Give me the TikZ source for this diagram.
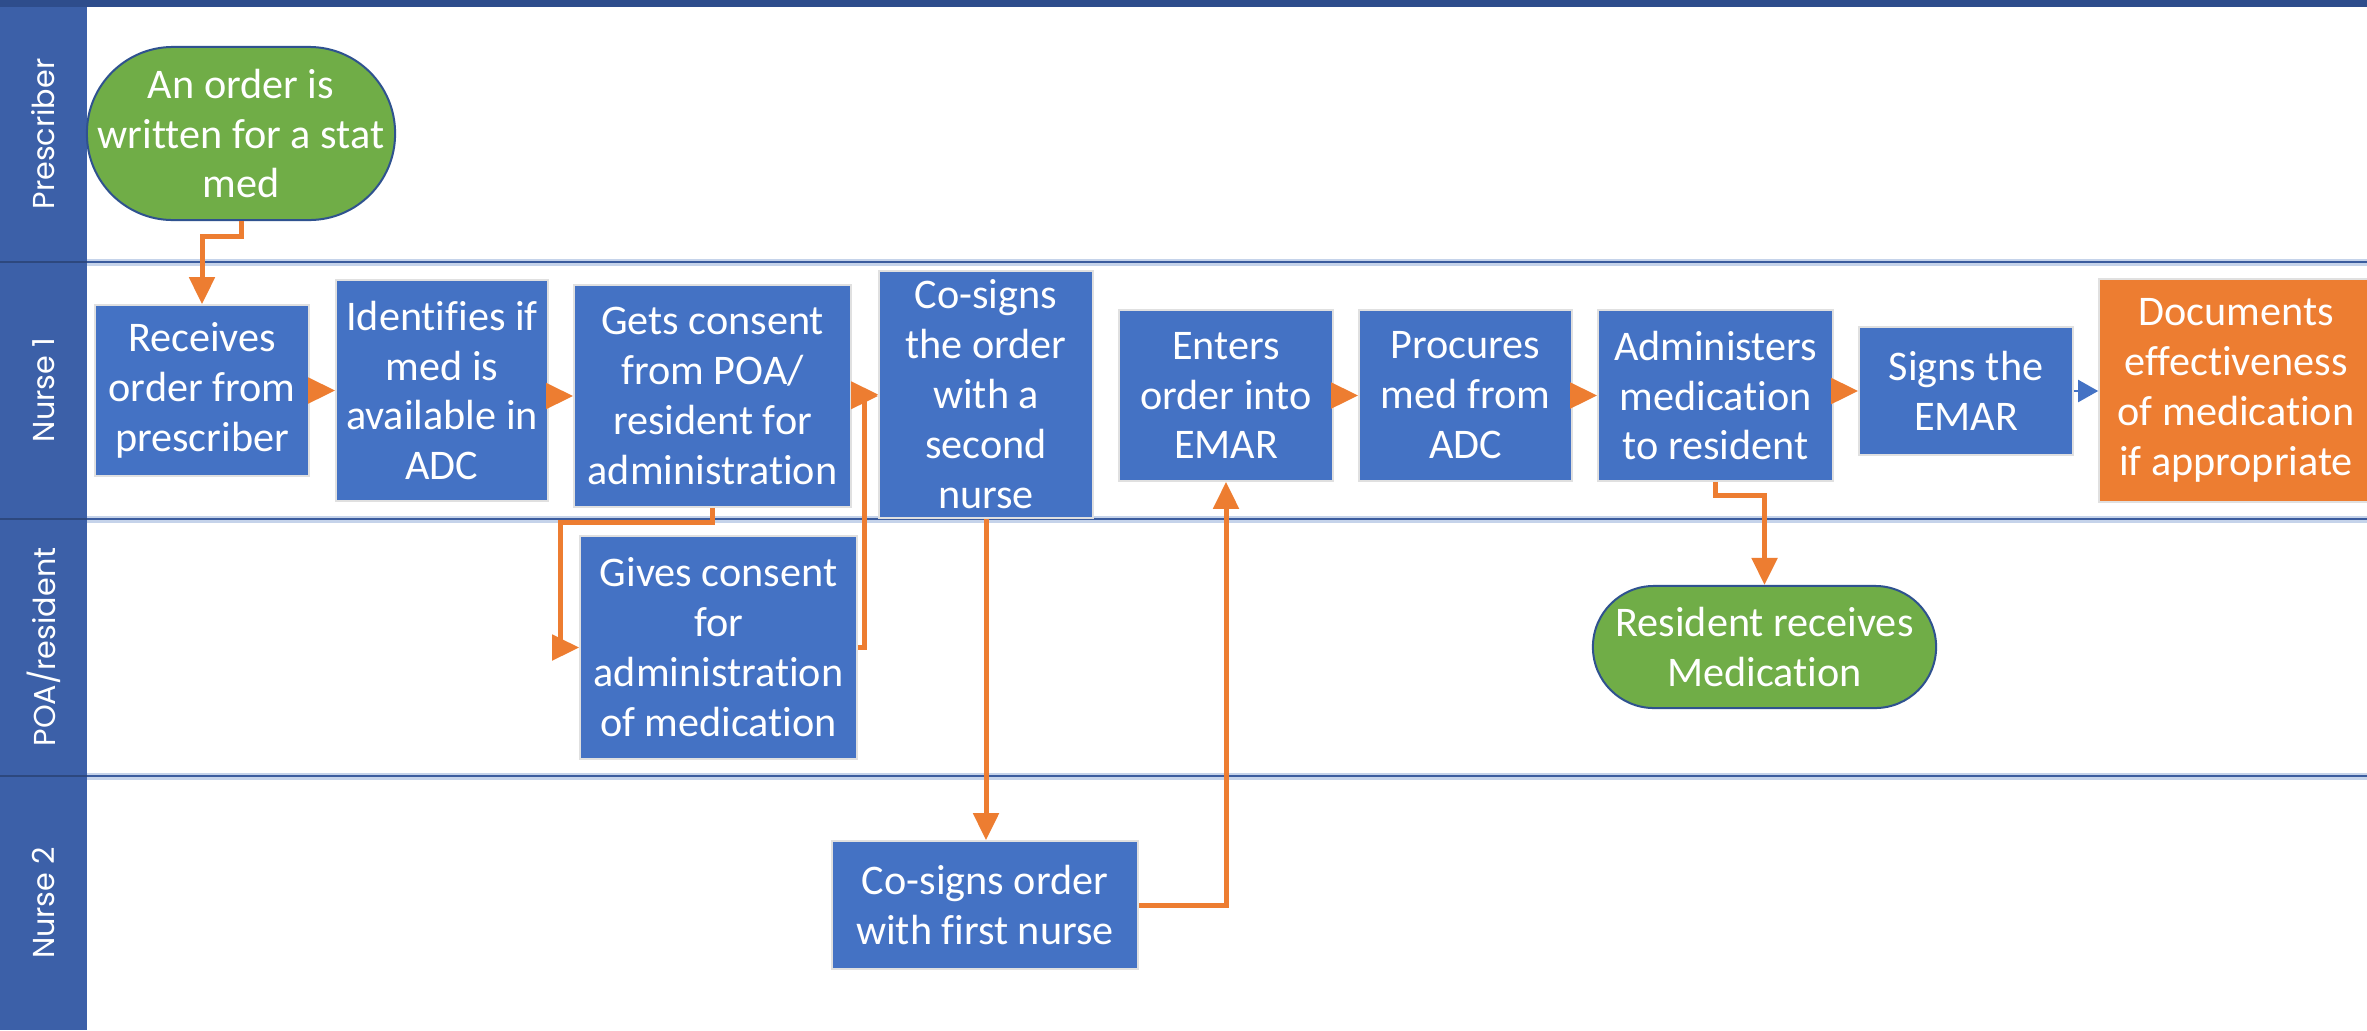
\documentclass[tikz,border=0pt]{standalone}
\usepackage{fontspec}
\setmainfont{Carlito}[Ligatures=NoCommon]
\newfontfamily\lanefont{Poppins}
\usetikzlibrary{arrows.meta,calc}

\definecolor{boxblue}{HTML}{4472C4}
\definecolor{flowor}{HTML}{ED7D31}
\definecolor{termgreen}{HTML}{70AD47}
\definecolor{termedge}{HTML}{2F528F}
\definecolor{headblue}{HTML}{3C60A8}
\definecolor{topblue}{HTML}{2E4D8C}
\definecolor{laneline}{HTML}{3B5C9E}
\definecolor{lanehalo}{HTML}{C5D3EA}

\tikzset{
  procbox/.style={rectangle, fill=boxblue, draw=black!12, line width=0.015cm,
    text=white, align=center, inner sep=0pt,
    font=\fontsize{12pt}{14.2pt}\selectfont},
  orangebox/.style={procbox, fill=flowor},
  terminal/.style={rectangle, fill=termgreen, draw=termedge, line width=0.02cm,
    text=white, align=center, inner sep=0pt,
    font=\fontsize{12pt}{14.2pt}\selectfont},
  flow/.style={draw=flowor, line width=0.05cm, line join=miter,
    -{Triangle[length=0.27cm,width=0.25cm]}, flowor},
  thinflow/.style={draw=boxblue, line width=0.02cm,
    -{Triangle[length=0.2cm,width=0.22cm]}, boxblue},
  lanelabel/.style={text=white, rotate=90, font=\lanefont\fontsize{8.6pt}{10pt}\selectfont},
  lanesep/.style={line width=0.02cm, draw=laneline},
  lanesephalo/.style={line width=0.07cm, draw=lanehalo}
}

\begin{document}
\begin{tikzpicture}[x=0.01cm, y=-0.01cm]
\clip (0,0) rectangle (2367,1030);
\fill[white] (0,0) rectangle (2367,1030);

% swimlane header column and top band
\fill[headblue] (0,0) rectangle (87,1030);
\fill[topblue] (0,0) rectangle (2367,7);
\foreach \yy in {262,519,776}{
  \draw[lanesephalo] (87,\yy) -- (2367,\yy);
  \draw[lanesep] (87,\yy) -- (2367,\yy);
  \draw[line width=0.015cm, draw=headblue!75!black] (0,\yy) -- (87,\yy);
}

% lane titles
\node[lanelabel] (lanepres) at (43.5,134) {Prescriber};
\node[lanelabel] (lanen1) at (43.5,390) {Nurse 1};
\node[lanelabel] (lanepoa) at (43.5,647) {POA/resident};
\node[lanelabel] (lanen2) at (43.5,903) {Nurse 2};

% Prescriber lane
\node[terminal, minimum width=3.08cm, minimum height=1.73cm, rounded corners=0.86cm]
  (start) at (241,133.5) {An order is\\written for a stat\\med};

% Nurse 1 lane
\node[procbox, minimum width=2.14cm, minimum height=1.71cm] (recv) at (202,390.5)
  {Receives\\order from\\prescriber};
\node[procbox, minimum width=2.12cm, minimum height=2.21cm] (ident) at (442,390.5)
  {Identifies if\\med is\\available in\\ADC};
\node[procbox, minimum width=2.77cm, minimum height=2.22cm] (gets) at (712.5,396)
  {Gets consent\\from POA/\\resident for\\administration};
\node[procbox, minimum width=2.14cm, minimum height=2.47cm] (cosign) at (986,394.5)
  {Co-signs\\the order\\with a\\second\\nurse};
\node[procbox, minimum width=2.14cm, minimum height=1.71cm] (enters) at (1226,395.5)
  {Enters\\order into\\EMAR};
\node[procbox, minimum width=2.13cm, minimum height=1.71cm] (procure) at (1465.5,395.5)
  {Procures\\med from\\ADC};
\node[procbox, minimum width=2.35cm, minimum height=1.71cm] (admin) at (1715.5,395.5)
  {Administers\\medication\\to resident};
\node[procbox, minimum width=2.14cm, minimum height=1.28cm] (signs) at (1966,391)
  {Signs the\\EMAR};
\node[orangebox, minimum width=2.74cm, minimum height=2.23cm] (docs) at (2236,390.5)
  {Documents\\effectiveness\\of medication\\if appropriate};

% POA/resident lane
\node[procbox, minimum width=2.77cm, minimum height=2.23cm] (gives) at (718.5,647.5)
  {Gives consent\\for\\administration\\of medication};
\node[terminal, minimum width=3.43cm, minimum height=1.22cm, rounded corners=0.61cm]
  (resident) at (1764.5,647) {Resident receives\\Medication};

% Nurse 2 lane
\node[procbox, minimum width=3.06cm, minimum height=1.28cm] (cosign2) at (985,905)
  {Co-signs order\\with first nurse};

% connectors
\draw[flow] (start.south) -- ++(0,15) -| (recv.north);
\draw[flow] (recv.east) -- (ident.west);
\draw[flow] (ident.east |- gets.west) -- (gets.west);
\draw[flow] (gets.east) -- (gets.east -| cosign.west);
\draw[flow] (gets.south) -- ++(0,15) -| ([xshift=-0.19cm]gives.west) -- (gives.west);
\draw[flow] (gives.east) -- ++(7,0) |- (cosign.west);
\draw[flow] (cosign.south) -- (cosign.south |- cosign2.north);
\draw[flow] (cosign2.east) -| (enters.south);
\draw[flow] (enters.east) -- (procure.west);
\draw[flow] (procure.east) -- (admin.west);
\draw[flow] (admin.east |- signs.west) -- (signs.west);
\draw[flow] (admin.south) -- ++(0,14) -| (resident.north);
\draw[thinflow] (signs.east) -- (signs.east -| docs.west);
\end{tikzpicture}
\end{document}
